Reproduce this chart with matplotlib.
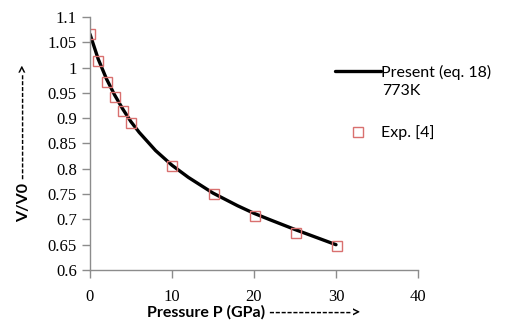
import numpy as np
import matplotlib.pyplot as plt

plt.rc("font", family=["Lato", "DejaVu Sans"])

# Experimental points (Exp. [4])
p_exp = [0.0, 1.0, 2.1, 3.05, 4.0, 5.0, 10.0, 15.1, 20.1, 25.1, 30.1]
v_exp = [1.067, 1.013, 0.972, 0.941, 0.914, 0.890, 0.806, 0.750, 0.707, 0.674, 0.647]

# Present (eq. 18) 773K curve
p_fit = [0, 1, 2, 3, 4, 5, 6, 8, 10, 12, 15, 18, 20, 22, 25, 28, 30]
v_fit = [1.066, 1.017, 0.978, 0.946, 0.918, 0.893, 0.872, 0.836, 0.807, 0.783,
         0.752, 0.727, 0.712, 0.699, 0.680, 0.662, 0.650]

xticks = [0, 10, 20, 30, 40]
yticks = [0.6, 0.65, 0.7, 0.75, 0.8, 0.85, 0.9, 0.95, 1.0, 1.05, 1.1]
ytick_labels = ["0.6", "0.65", "0.7", "0.75", "0.8", "0.85", "0.9", "0.95", "1", "1.05", "1.1"]

fig = plt.figure(figsize=(5.09, 3.20), dpi=100)
ax = fig.add_axes([0.1768, 0.15625, 0.6444, 0.7907])

line, = ax.plot(p_fit, v_fit, color="black", linewidth=2.4, solid_capstyle="round")
pts, = ax.plot(p_exp, v_exp, linestyle="none", marker="s", markersize=7,
               markerfacecolor="none", markeredgecolor="#d9706f", markeredgewidth=1.0)

ax.set_xlim(0, 40)
ax.set_ylim(0.6, 1.1)
ax.set_xticks(xticks)
ax.set_yticks(yticks)
ax.set_yticklabels(ytick_labels)

for s in ["top", "right"]:
    ax.spines[s].set_visible(False)
for s in ["left", "bottom"]:
    ax.spines[s].set_color("#8c8c8c")
    ax.spines[s].set_linewidth(1.0)
ax.tick_params(axis="both", colors="#8c8c8c", length=6, width=1.0, direction="out",
               labelcolor="black", labelsize=12)
for lab in ax.get_xticklabels() + ax.get_yticklabels():
    lab.set_family(["Liberation Serif", "DejaVu Serif"])
ax.tick_params(axis="x", pad=8)

ax.set_xlabel("Pressure P (GPa) -------------->", fontweight="bold", fontsize=11.5, labelpad=0)
ax.set_ylabel("V/V0 ------------------>", fontweight="bold", fontsize=11.5, labelpad=12)

# legend: line + marker handles, second line of label added as plain text
fig.legend([line, pts], ["Present (eq. 18)", "Exp. [4]"],
           loc="upper left", bbox_to_anchor=(0.629, 0.843), frameon=False,
           prop={"size": 11.5}, handlelength=2.9, handletextpad=0.0, labelspacing=2.85)
fig.text(0.751, 0.716, "773K", fontsize=11.5, ha="left", va="center")

fig.savefig("out.png", dpi=100)
